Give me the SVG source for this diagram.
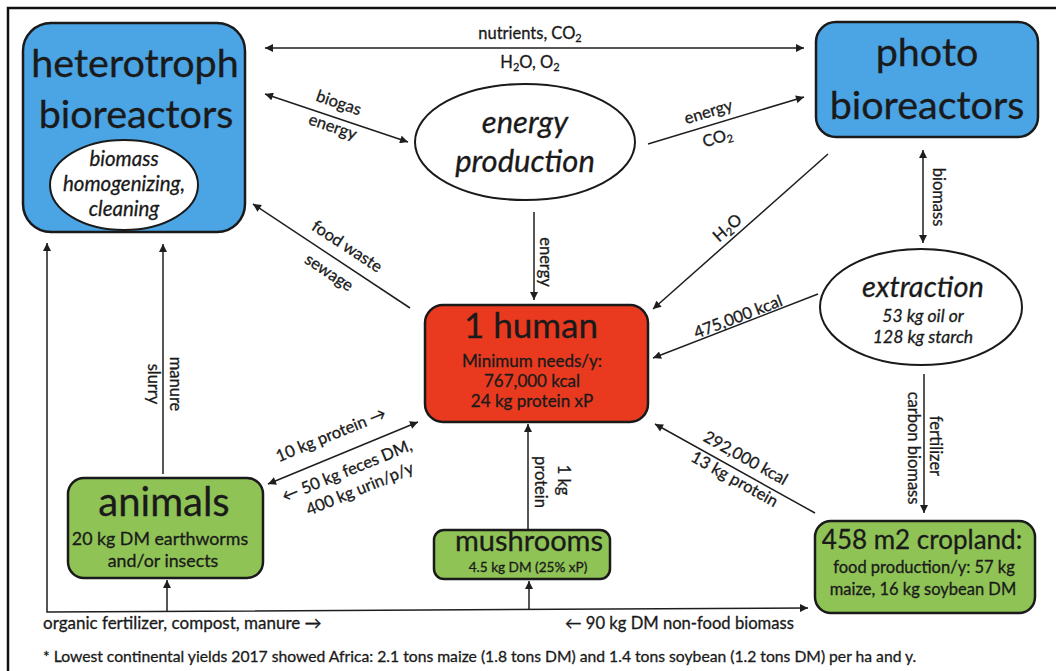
<svg xmlns="http://www.w3.org/2000/svg" width="1056" height="671" viewBox="0 0 1056 671">
<defs>
<marker id="ah" viewBox="0 0 10 10" refX="10" refY="5" markerUnits="userSpaceOnUse" markerWidth="10" markerHeight="8" orient="auto-start-reverse">
<path d="M0,0 L10,5 L0,10 z" fill="#1e1e1e"/>
</marker>
<style>
text{font-family:Lato,"Open Sans","Liberation Sans",sans-serif;fill:#1a1a1a;stroke:#1a1a1a;stroke-width:0.3}
.box{stroke:#1a1a1a;stroke-width:2.5}
.blue{fill:#4ba4e4}
.red{fill:#e93a20}
.green{fill:#8fc356}
.ell{fill:#fff;stroke:#1a1a1a;stroke-width:2}
.c{stroke:#1e1e1e;stroke-width:1.5;fill:none}
.e{marker-end:url(#ah)}
.b{marker-start:url(#ah);marker-end:url(#ah)}
.lbl{font-size:16.5px;text-anchor:middle}
.mid{text-anchor:middle}
.it{font-style:italic}
</style>
</defs>
<rect x="0" y="0" width="1056" height="671" fill="#fff"/>
<path d="M8,671 V8 H1056" fill="none" stroke="#111" stroke-width="2.5"/>

<g id="connectors">
<line class="c b" x1="265" y1="48" x2="804" y2="48"/>
<line class="c b" x1="265" y1="94" x2="408" y2="142"/>
<line class="c e" x1="648" y1="144" x2="804" y2="97"/>
<line class="c e" x1="410" y1="308" x2="253" y2="204"/>
<line class="c e" x1="534" y1="212" x2="534" y2="300"/>
<line class="c e" x1="828" y1="154" x2="653" y2="309"/>
<line class="c b" x1="923" y1="150" x2="923" y2="243"/>
<line class="c e" x1="818" y1="294" x2="653" y2="358"/>
<line class="c e" x1="924" y1="374" x2="924" y2="513"/>
<line class="c e" x1="163" y1="474" x2="163" y2="244"/>
<path class="c b" d="M47,243 V612 L808,608"/>
<line class="c e" x1="167" y1="612" x2="167" y2="580"/>
<line class="c e" x1="529" y1="610" x2="529" y2="581"/>
<line class="c e" x1="528" y1="530" x2="528" y2="424"/>
<line class="c b" x1="268" y1="484" x2="418" y2="422"/>
<line class="c e" x1="815" y1="513" x2="655" y2="424"/>

<text class="lbl" x="530" y="39">nutrients, CO<tspan font-size="11" dy="3">2</tspan></text>
<text class="lbl" x="530" y="68">H<tspan font-size="11" dy="3">2</tspan><tspan dy="-3">O, O</tspan><tspan font-size="11" dy="3">2</tspan></text>
<text class="lbl" transform="translate(337,108) rotate(18.8)">biogas</text>
<text class="lbl" transform="translate(331,132) rotate(18.8)">energy</text>
<text class="lbl" transform="translate(710,117) rotate(-16.8)">energy</text>
<text class="lbl" transform="translate(719,143) rotate(-16.8)">CO<tspan font-size="11" dy="3">2</tspan></text>
<text class="lbl" transform="translate(344,251) rotate(33.3)">food waste</text>
<text class="lbl" transform="translate(326,277) rotate(33.3)">sewage</text>
<text class="lbl" transform="translate(540,262) rotate(90)">energy</text>
<text class="lbl" transform="translate(731,232) rotate(-41.5)">H<tspan font-size="11" dy="3">2</tspan><tspan dy="-3">O</tspan></text>
<text class="lbl" transform="translate(933,197) rotate(90)">biomass</text>
<text class="lbl" transform="translate(740,322) rotate(-21)">475,000 kcal</text>
<text class="lbl" transform="translate(930,446) rotate(90)">fertilizer</text>
<text class="lbl" transform="translate(908,448) rotate(90)">carbon biomass</text>
<text class="lbl" transform="translate(170,384) rotate(90)">manure</text>
<text class="lbl" transform="translate(148,384) rotate(90)">slurry</text>
<text class="lbl" transform="translate(558,480) rotate(90)">1 kg</text>
<text class="lbl" transform="translate(535,482) rotate(90)">protein</text>
<text class="lbl" transform="translate(333,440) rotate(-22.3)">10 kg protein →</text>
<text class="lbl" transform="translate(349,476) rotate(-22.3)">← 50 kg feces DM,</text>
<text class="lbl" transform="translate(362,494) rotate(-22.3)">400 kg urin/p/y</text>
<text class="lbl" transform="translate(743,463) rotate(29.1)">292,000 kcal</text>
<text class="lbl" transform="translate(732,484) rotate(29.1)">13 kg protein</text>
<text x="43" y="629" font-size="17">organic fertilizer, compost, manure →</text>
<text x="565" y="629" font-size="16.6">← 90 kg DM non-food biomass</text>
</g>

<g id="heterotroph">
<rect class="box blue" x="23" y="23" width="222" height="209" rx="28"/>
<text class="mid" x="135" y="77" font-size="39.5">heterotroph</text>
<text class="mid" x="136" y="128" font-size="39.5">bioreactors</text>
</g>
<g id="biomass-homogenizing">
<ellipse class="ell" cx="124" cy="185" rx="74" ry="45"/>
<text class="mid it" x="124" y="166" font-size="20.5">biomass</text>
<text class="mid it" x="124" y="191" font-size="20.5">homogenizing,</text>
<text class="mid it" x="124" y="216" font-size="20.5">cleaning</text>
</g>
<g id="photo">
<rect class="box blue" x="816" y="22" width="222" height="115" rx="20"/>
<text class="mid" x="927" y="66" font-size="39.5">photo</text>
<text class="mid" x="927" y="119" font-size="39.5">bioreactors</text>
</g>
<g id="energy-production">
<ellipse class="ell" cx="525" cy="142" rx="110" ry="58"/>
<text class="mid it" x="525" y="133" font-size="31">energy</text>
<text class="mid it" x="525" y="172" font-size="31">production</text>
</g>
<g id="extraction">
<ellipse class="ell" cx="921" cy="307" rx="101" ry="58"/>
<text class="mid it" x="923" y="297" font-size="29">extraction</text>
<text class="mid it" x="923" y="322" font-size="17.5">53 kg oil or</text>
<text class="mid it" x="923" y="343" font-size="17.5">128 kg starch</text>
</g>
<g id="human">
<rect class="box red" x="425" y="305" width="223" height="117" rx="18"/>
<text class="mid" x="531" y="338" font-size="35">1 human</text>
<text class="mid" x="532" y="367" font-size="17">Minimum needs/y:</text>
<text class="mid" x="532" y="387" font-size="17">767,000 kcal</text>
<text class="mid" x="532" y="407" font-size="17">24 kg protein xP</text>
</g>
<g id="animals">
<rect class="box green" x="68" y="478" width="195" height="100" rx="16"/>
<text class="mid" x="164" y="516" font-size="40">animals</text>
<text class="mid" x="160" y="545" font-size="17.8">20 kg DM earthworms</text>
<text class="mid" x="163" y="567" font-size="17.8">and/or insects</text>
</g>
<g id="mushrooms">
<rect class="box green" x="434" y="530" width="176" height="49" rx="10"/>
<text class="mid" x="529" y="551" font-size="29">mushrooms</text>
<text class="mid" x="528" y="572" font-size="13.6">4.5 kg DM (25% xP)</text>
</g>
<g id="cropland">
<rect class="box green" x="815" y="521" width="220" height="92" rx="16"/>
<text class="mid" x="922" y="549" font-size="26">458 m2 cropland:</text>
<text class="mid" x="924" y="573" font-size="16.5">food production/y: 57 kg</text>
<text class="mid" x="923" y="595" font-size="16.5">maize, 16 kg soybean DM</text>
</g>
<text x="43" y="662" font-size="15.7">* Lowest continental yields 2017 showed Africa: 2.1 tons maize (1.8 tons DM) and 1.4 tons soybean (1.2 tons DM)  per ha and y.</text>
</svg>
